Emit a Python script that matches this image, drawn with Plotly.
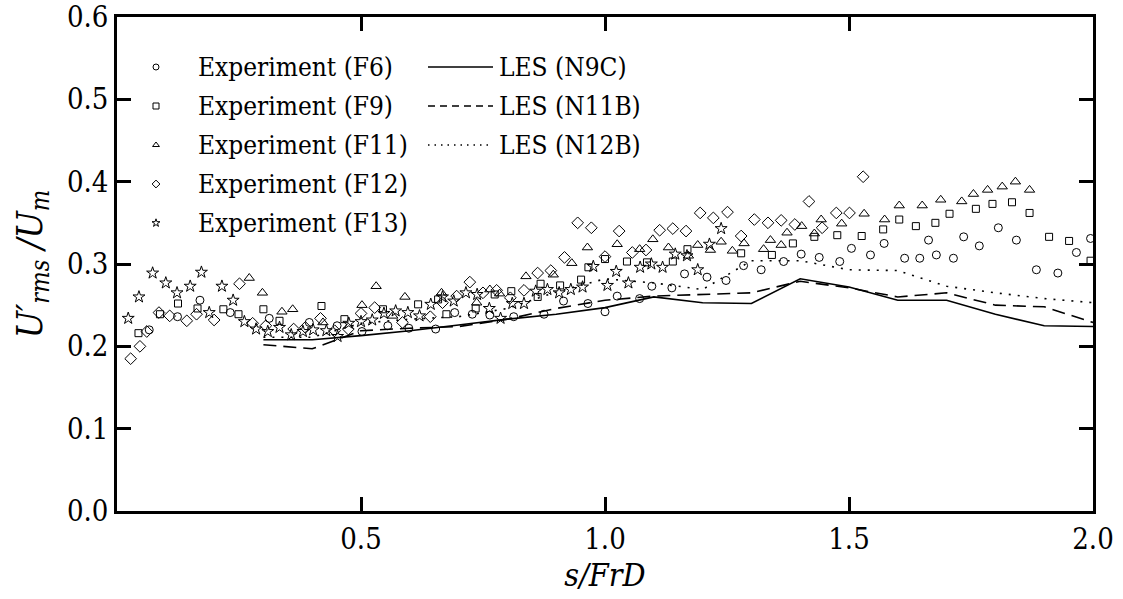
import plotly.graph_objects as go

# ---------------- data ----------------
f6_x = [0.066, 0.124, 0.170, 0.232, 0.312, 0.394, 0.451, 0.502, 0.555, 0.598, 0.653, 0.692, 0.728, 0.764,
        0.813, 0.875, 0.915, 0.965, 1.000, 1.025, 1.071, 1.096, 1.137, 1.163, 1.209, 1.248, 1.284, 1.320,
        1.366, 1.402, 1.439, 1.481, 1.505, 1.544, 1.572, 1.614, 1.645, 1.663, 1.679, 1.714, 1.735, 1.767,
        1.806, 1.843, 1.884, 1.928, 1.966, 1.995]
f6_y = [0.220, 0.236, 0.256, 0.241, 0.234, 0.229, 0.225, 0.218, 0.225, 0.222, 0.221, 0.241, 0.239, 0.238,
        0.236, 0.239, 0.255, 0.252, 0.242, 0.261, 0.258, 0.273, 0.271, 0.288, 0.284, 0.280, 0.298, 0.293,
        0.303, 0.312, 0.308, 0.303, 0.319, 0.311, 0.325, 0.307, 0.307, 0.329, 0.311, 0.307, 0.333, 0.322,
        0.344, 0.329, 0.293, 0.289, 0.314, 0.331]

f9_x = [0.044, 0.088, 0.125, 0.165, 0.218, 0.249, 0.300, 0.333, 0.419, 0.466, 0.545, 0.617, 0.658, 0.675,
        0.735, 0.774, 0.808, 0.862, 0.868, 0.908, 0.951, 0.966, 1.000, 1.045, 1.086, 1.139, 1.169, 1.279,
        1.342, 1.385, 1.429, 1.476, 1.526, 1.570, 1.603, 1.637, 1.677, 1.706, 1.760, 1.794, 1.834, 1.870,
        1.910, 1.951, 1.995]
f9_y = [0.216, 0.239, 0.252, 0.246, 0.245, 0.239, 0.245, 0.231, 0.249, 0.233, 0.245, 0.251, 0.257, 0.239,
        0.246, 0.263, 0.267, 0.260, 0.276, 0.274, 0.281, 0.296, 0.306, 0.303, 0.302, 0.303, 0.318, 0.313,
        0.311, 0.325, 0.333, 0.335, 0.334, 0.342, 0.354, 0.346, 0.350, 0.361, 0.367, 0.373, 0.375, 0.362,
        0.333, 0.328, 0.304]

f11_x = [0.271, 0.298, 0.338, 0.360, 0.422, 0.502, 0.531, 0.565, 0.590, 0.665, 0.737, 0.764, 0.784, 0.838,
         0.894, 0.932, 0.964, 1.025, 1.071, 1.098, 1.130, 1.171, 1.190, 1.216, 1.238, 1.261, 1.285, 1.325,
         1.339, 1.361, 1.373, 1.403, 1.429, 1.443, 1.485, 1.531, 1.573, 1.603, 1.650, 1.688, 1.731, 1.755,
         1.784, 1.814, 1.841, 1.870]
f11_y = [0.283, 0.265, 0.242, 0.245, 0.229, 0.250, 0.273, 0.237, 0.260, 0.265, 0.253, 0.269, 0.264, 0.285,
         0.287, 0.301, 0.320, 0.324, 0.318, 0.330, 0.320, 0.310, 0.323, 0.317, 0.327, 0.316, 0.325, 0.318,
         0.329, 0.323, 0.338, 0.346, 0.337, 0.354, 0.349, 0.361, 0.354, 0.371, 0.371, 0.378, 0.376, 0.385,
         0.390, 0.394, 0.400, 0.390]

f12_x = [0.028, 0.047, 0.061, 0.086, 0.108, 0.143, 0.163, 0.199, 0.251, 0.278, 0.305, 0.362, 0.386, 0.417,
         0.446, 0.474, 0.500, 0.528, 0.585, 0.642, 0.667, 0.696, 0.723, 0.750, 0.778, 0.806, 0.834, 0.862,
         0.889, 0.917, 0.944, 0.972, 1.000, 1.029, 1.056, 1.084, 1.112, 1.139, 1.166, 1.195, 1.222, 1.251,
         1.279, 1.306, 1.334, 1.361, 1.389, 1.418, 1.445, 1.474, 1.501, 1.529]
f12_y = [0.185, 0.200, 0.218, 0.241, 0.237, 0.231, 0.239, 0.232, 0.276, 0.228, 0.225, 0.221, 0.223, 0.234,
         0.219, 0.221, 0.240, 0.247, 0.229, 0.236, 0.253, 0.261, 0.278, 0.265, 0.268, 0.259, 0.268, 0.289,
         0.292, 0.308, 0.350, 0.344, 0.309, 0.340, 0.314, 0.317, 0.341, 0.343, 0.340, 0.362, 0.356, 0.363,
         0.334, 0.354, 0.350, 0.353, 0.348, 0.376, 0.344, 0.362, 0.362, 0.406]

f13_x = [0.023, 0.045, 0.073, 0.100, 0.123, 0.150, 0.173, 0.189, 0.215, 0.238, 0.261, 0.285, 0.309, 0.333,
         0.357, 0.381, 0.402, 0.429, 0.452, 0.475, 0.500, 0.523, 0.547, 0.571, 0.596, 0.620, 0.643, 0.667,
         0.690, 0.715, 0.738, 0.763, 0.786, 0.810, 0.834, 0.858, 0.882, 0.906, 0.930, 0.954, 0.976, 1.005,
         1.023, 1.048, 1.072, 1.095, 1.118, 1.144, 1.168, 1.190, 1.214, 1.238]
f13_y = [0.234, 0.260, 0.289, 0.277, 0.265, 0.273, 0.290, 0.241, 0.273, 0.256, 0.230, 0.221, 0.218, 0.223,
         0.214, 0.218, 0.220, 0.219, 0.212, 0.228, 0.230, 0.232, 0.240, 0.243, 0.241, 0.237, 0.251, 0.260,
         0.255, 0.265, 0.263, 0.246, 0.234, 0.252, 0.252, 0.267, 0.269, 0.265, 0.269, 0.272, 0.297, 0.274,
         0.291, 0.277, 0.296, 0.300, 0.296, 0.312, 0.310, 0.293, 0.324, 0.343]

les_x = [0.3, 0.4, 0.5, 0.6, 0.7, 0.8, 0.9, 1.0, 1.1, 1.2, 1.3, 1.4, 1.5, 1.6, 1.7, 1.8, 1.9, 2.0]
n9c_y = [0.208, 0.208, 0.213, 0.219, 0.226, 0.233, 0.239, 0.247, 0.260, 0.253, 0.252, 0.282, 0.272, 0.256,
         0.256, 0.239, 0.225, 0.224]
n11b_y = [0.202, 0.197, 0.219, 0.222, 0.224, 0.233, 0.246, 0.256, 0.261, 0.263, 0.265, 0.279, 0.271, 0.260,
          0.265, 0.250, 0.248, 0.229]
n12b_y = [0.211, 0.211, 0.228, 0.233, 0.236, 0.246, 0.266, 0.282, 0.277, 0.269, 0.304, 0.304, 0.293, 0.292,
          0.273, 0.265, 0.258, 0.253]

exp_names = ["Experiment (F6)", "Experiment (F9)", "Experiment (F11)", "Experiment (F12)", "Experiment (F13)"]
les_names = ["LES (N9C)", "LES (N11B)", "LES (N12B)"]
x_ticks = [0.5, 1.0, 1.5, 2.0]
x_tick_text = ["0.5", "1.0", "1.5", "2.0"]
y_ticks = [0.0, 0.1, 0.2, 0.3, 0.4, 0.5, 0.6]
y_tick_text = ["0.0", "0.1", "0.2", "0.3", "0.4", "0.5", "0.6"]

# ---------------- styling ----------------
FONT = "DejaVu Serif Condensed, DejaVu Serif, serif"
symbols = ["circle-open", "square-open", "triangle-up-open", "diamond-open", "star-open"]
sizes = [8, 7, 9, 9, 9]
dashes = ["solid", "13px,7px", "2px,7px"]
leg_dashes = ["solid", "7px,5px", "1.5px,5px"]

W, H = 1123, 599
L, R, T, B = 117, 30, 17, 88

fig = go.Figure()

exp_x = [f6_x, f9_x, f11_x, f12_x, f13_x]
exp_y = [f6_y, f9_y, f11_y, f12_y, f13_y]
for xs, ys, nm, sym, sz in zip(exp_x, exp_y, exp_names, symbols, sizes):
    fig.add_trace(go.Scatter(x=xs, y=ys, mode="markers", name=nm, showlegend=False,
                             marker=dict(symbol=sym, size=sz, color="black",
                                         line=dict(color="black", width=1))))

for ys, nm, ds in zip([n9c_y, n11b_y, n12b_y], les_names, dashes):
    fig.add_trace(go.Scatter(x=les_x, y=ys, mode="lines", name=nm, showlegend=False,
                             line=dict(color="black", width=1.6, dash=ds)))

# ---------------- hand-drawn legend (pixel overlay axes) ----------------
row_y = [67, 106, 145, 184, 223]  # pixel rows
leg_mx = 156
leg_tx = 196
for i, (nm, sym) in enumerate(zip(exp_names, symbols)):
    fig.add_trace(go.Scatter(x=[leg_mx], y=[row_y[i]], mode="markers", showlegend=False,
                             xaxis="x2", yaxis="y2", hoverinfo="skip",
                             marker=dict(symbol=sym, size=6, color="black",
                                         line=dict(color="black", width=1))))
    fig.add_annotation(x=leg_tx, y=row_y[i], xref="x2", yref="y2", text=nm, showarrow=False,
                       xanchor="left", yanchor="middle",
                       font=dict(family=FONT, size=26, color="black"))

for i, (nm, ds) in enumerate(zip(les_names, leg_dashes)):
    fig.add_trace(go.Scatter(x=[428, 493], y=[row_y[i], row_y[i]], mode="lines", showlegend=False,
                             xaxis="x2", yaxis="y2", hoverinfo="skip",
                             line=dict(color="black", width=1.3, dash=ds)))
    fig.add_annotation(x=497, y=row_y[i], xref="x2", yref="y2", text=nm, showarrow=False,
                       xanchor="left", yanchor="middle",
                       font=dict(family=FONT, size=26, color="black"))

axis_common = dict(showgrid=False, zeroline=False, showline=True, linecolor="black", linewidth=2.5,
                   mirror="ticks", ticks="inside", ticklen=14, tickwidth=2.5, tickcolor="black",
                   automargin=False, ticklabeloverflow="allow",
                   tickfont=dict(family=FONT, size=29, color="black"))

fig.update_layout(
    template="none",
    width=W, height=H,
    margin=dict(l=L, r=R, t=T, b=B, pad=0),
    paper_bgcolor="white", plot_bgcolor="white",
    showlegend=False,
    font=dict(family=FONT, color="black"),
    xaxis=dict(range=[0, 2.0], tickvals=x_ticks, ticktext=x_tick_text,
               title=dict(text="<i>s/FrD</i>", font=dict(family=FONT, size=32, color="black"), standoff=2),
               **axis_common),
    yaxis=dict(range=[0, 0.6], tickvals=y_ticks, ticktext=y_tick_text,
               title=dict(text="<i>U′<sub>rms</sub> /U<sub>m</sub></i>",
                          font=dict(family=FONT, size=36, color="black"), standoff=14),
               **axis_common),
    xaxis2=dict(overlaying="x", anchor="y2", range=[L, W - R], visible=False, fixedrange=True),
    yaxis2=dict(overlaying="y", anchor="x2", range=[H - B, T], visible=False, fixedrange=True),
)

fig.write_html("out.html")
